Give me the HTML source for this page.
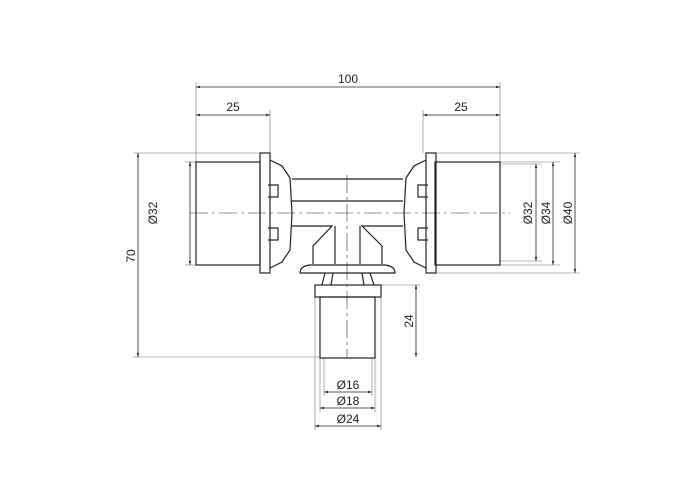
<!DOCTYPE html>
<html><head><style>body{margin:0;background:#fff}svg{display:block}</style></head><body>
<svg width="700" height="500" viewBox="0 0 700 500" xmlns="http://www.w3.org/2000/svg" font-family="Liberation Sans, sans-serif" font-size="12" fill="none" stroke="#222">
<defs><marker id="a" viewBox="0 0 10 10" refX="10" refY="5" markerWidth="7" markerHeight="5" orient="auto-start-reverse"><path d="M0,2 L10,5 L0,8 z" fill="#222" stroke="none"/></marker></defs>
<g stroke="#777" stroke-width="0.6">
<line x1="196" y1="82" x2="196" y2="162"/><line x1="500" y1="82" x2="500" y2="162"/>
<line x1="270" y1="110" x2="270" y2="153"/><line x1="423" y1="110" x2="423" y2="153"/>
<line x1="133" y1="153" x2="262" y2="153"/><line x1="133" y1="357" x2="320" y2="357"/>
<line x1="185" y1="162" x2="196" y2="162"/><line x1="185" y1="265" x2="196" y2="265"/>
<line x1="500" y1="162" x2="560" y2="162"/><line x1="500" y1="265" x2="560" y2="265"/>
<line x1="500" y1="164" x2="542" y2="164"/><line x1="500" y1="261" x2="542" y2="261"/>
<line x1="435" y1="153" x2="580" y2="153"/><line x1="435" y1="273" x2="580" y2="273"/>
<line x1="381" y1="285" x2="420" y2="285"/>
<line x1="315" y1="297" x2="315" y2="430"/><line x1="381" y1="297" x2="381" y2="430"/>
<line x1="320" y1="358" x2="320" y2="412"/><line x1="375" y1="358" x2="375" y2="412"/>
<line x1="324" y1="358" x2="324" y2="396"/><line x1="372" y1="358" x2="372" y2="396"/>
</g>
<g stroke="#333" stroke-width="0.6" stroke-dasharray="18,4,3,4">
<line x1="190" y1="213" x2="510" y2="213"/><line x1="347" y1="175" x2="347" y2="358"/>
</g>
<g stroke="#222" stroke-width="0.8" marker-start="url(#a)" marker-end="url(#a)">
<line x1="196" y1="87" x2="500" y2="87"/>
<line x1="196" y1="115" x2="270" y2="115"/><line x1="423" y1="115" x2="500" y2="115"/>
<line x1="138" y1="153" x2="138" y2="357"/>
<line x1="190" y1="162" x2="190" y2="265"/>
<line x1="536" y1="164" x2="536" y2="261"/><line x1="553" y1="162" x2="553" y2="265"/><line x1="575" y1="153" x2="575" y2="273"/>
<line x1="416" y1="285" x2="416" y2="357"/>
<line x1="324" y1="392" x2="372" y2="392"/><line x1="320" y1="408" x2="375" y2="408"/><line x1="315" y1="426" x2="381" y2="426"/>
</g>
<g stroke="#222" stroke-width="1.2">
<rect x="196" y="162" width="64" height="103"/><rect x="435" y="162" width="65" height="103"/>
<rect x="260" y="153" width="10" height="120"/><rect x="426" y="153" width="10" height="120"/>
<path d="M270,160 L282,166 L290,178 L292,213 L290,250 L282,262 L270,268"/>
<path d="M426,160 L414,166 L406,178 L404,213 L406,250 L414,262 L426,268"/>
<path d="M268,185 h10 v12 h-10 M268,228 h10 v12 h-10 M428,185 h-10 v12 h10 M428,228 h-10 v12 h10"/>
<path d="M292,179 H403 M292,201 H403 M292,226 H332 L313,246 V264 M403,226 H362 L382,246 V264 M335,226 V264 M360,226 V264"/>
<path d="M300,273 Q300,266 310,265 H385 Q395,266 395,273 Z"/>
<path d="M325,273 L322,285 M333,273 L331,285 M362,273 L364,285 M370,273 L374,285"/>
<rect x="315" y="285" width="66" height="12"/><rect x="320" y="297" width="55" height="61"/>
</g>
<g fill="#222" stroke="none" text-anchor="middle">
<text x="348" y="83">100</text><text x="233" y="111">25</text><text x="461" y="111">25</text>
<text x="348" y="389">Ø16</text><text x="348" y="405">Ø18</text><text x="348" y="423">Ø24</text>
<text transform="translate(135,256) rotate(-90)">70</text>
<text transform="translate(157,213) rotate(-90)">Ø32</text>
<text transform="translate(532,213) rotate(-90)">Ø32</text>
<text transform="translate(550,213) rotate(-90)">Ø34</text>
<text transform="translate(572,213) rotate(-90)">Ø40</text>
<text transform="translate(413,321) rotate(-90)">24</text>
</g>
</svg>
</body></html>
